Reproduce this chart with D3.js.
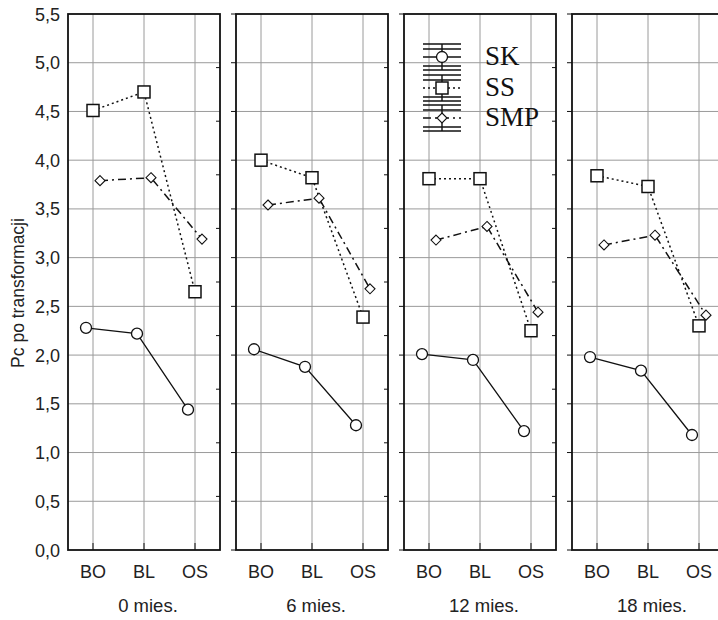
<!DOCTYPE html>
<html>
<head>
<meta charset="utf-8">
<script src="https://cdn.jsdelivr.net/npm/d3@7/dist/d3.min.js"></script>
<style>
  html, body { margin: 0; padding: 0; background: #fff; }
  svg { display: block; }
</style>
</head>
<body>
<svg id="chart" width="718" height="620"></svg>
<script>
// Categories and periods
const categories = ["BO", "BL", "OS"];
const periods = ["0 mies.", "6 mies.", "12 mies.", "18 mies."];
const yTicks = [0, 0.5, 1, 1.5, 2, 2.5, 3, 3.5, 4, 4.5, 5, 5.5];

// Mean values per period (rows) and category (columns)
const skValues = [
  [2.28, 2.22, 1.44],
  [2.06, 1.88, 1.28],
  [2.01, 1.95, 1.22],
  [1.98, 1.84, 1.18]
];
const ssValues = [
  [4.51, 4.70, 2.65],
  [4.00, 3.82, 2.39],
  [3.81, 3.81, 2.25],
  [3.84, 3.73, 2.30]
];
const smpValues = [
  [3.79, 3.82, 3.19],
  [3.54, 3.61, 2.68],
  [3.18, 3.32, 2.44],
  [3.13, 3.23, 2.41]
];
const seriesNames = ["SK", "SS", "SMP"];

const svg = d3.select("#chart");
const sans = "'Liberation Sans', Arial, sans-serif";
const serif = "'Liberation Serif', 'Times New Roman', serif";

const plotTop = 14, plotBottom = 550, panelW = 152;
const y = d3.scaleLinear().domain([0, 5.5]).range([plotBottom, plotTop]);
const panelX = d3.scalePoint().domain(periods).range([68, 572]);
const x = d3.scalePoint().domain(categories).range([25, 127]);

const series = [
  { name: "SK", values: skValues, dx: -7, dash: null, shape: "circle" },
  { name: "SS", values: ssValues, dx: 0, dash: "2,3", shape: "square" },
  { name: "SMP", values: smpValues, dx: 7, dash: "8,4,2,4", shape: "diamond" }
];

function drawMarker(g, shape, cx, cy) {
  if (shape === "circle") {
    g.append("circle").attr("cx", cx).attr("cy", cy).attr("r", 5.5)
      .attr("fill", "#fff").attr("stroke", "#111").attr("stroke-width", 1.3);
  } else if (shape === "square") {
    g.append("rect").attr("x", cx - 6).attr("y", cy - 6).attr("width", 12).attr("height", 12)
      .attr("fill", "#fff").attr("stroke", "#111").attr("stroke-width", 1.5);
  } else {
    const r = 5;
    g.append("path").attr("d", `M${cx},${cy - r}L${cx + r},${cy}L${cx},${cy + r}L${cx - r},${cy}Z`)
      .attr("fill", "#fff").attr("stroke", "#111").attr("stroke-width", 1.1);
  }
}

periods.forEach((p, pi) => {
  const g = svg.append("g").attr("transform", `translate(${panelX(p)},0)`);

  // grid
  g.selectAll("line.hg").data(yTicks.slice(1, -1)).enter().append("line")
    .attr("x1", 0).attr("x2", panelW).attr("y1", d => y(d)).attr("y2", d => y(d))
    .attr("stroke", "#9a9a9a").attr("stroke-width", 1);
  g.selectAll("line.vg").data(categories).enter().append("line")
    .attr("x1", d => x(d)).attr("x2", d => x(d)).attr("y1", plotTop).attr("y2", plotBottom)
    .attr("stroke", "#9a9a9a").attr("stroke-width", 1);

  // inner ticks on the right border (10 divisions)
  g.selectAll("line.rt").data(d3.range(1, 10)).enter().append("line")
    .attr("x1", panelW - 4).attr("x2", panelW)
    .attr("y1", d => plotBottom - d * (plotBottom - plotTop) / 10)
    .attr("y2", d => plotBottom - d * (plotBottom - plotTop) / 10)
    .attr("stroke", "#111").attr("stroke-width", 1);

  // bottom category ticks
  g.selectAll("line.bt").data(categories).enter().append("line")
    .attr("x1", d => x(d)).attr("x2", d => x(d)).attr("y1", plotBottom - 7).attr("y2", plotBottom)
    .attr("stroke", "#111").attr("stroke-width", 1);

  // left outward ticks for inner panels
  if (pi > 0) {
    g.selectAll("line.lt").data(yTicks).enter().append("line")
      .attr("x1", -5).attr("x2", 0).attr("y1", d => y(d)).attr("y2", d => y(d))
      .attr("stroke", "#111").attr("stroke-width", 1);
  }

  // lines and markers
  series.forEach(s => {
    const vals = s.values[pi];
    const line = d3.line().x((d, i) => x(categories[i]) + s.dx).y(d => y(d));
    g.append("path").attr("d", line(vals)).attr("fill", "none")
      .attr("stroke", "#111").attr("stroke-width", s.dash ? 1.5 : 1.3)
      .attr("stroke-dasharray", s.dash);
  });
  series.forEach(s => {
    s.values[pi].forEach((v, i) => drawMarker(g, s.shape, x(categories[i]) + s.dx, y(v)));
  });

  // frame
  g.append("rect").attr("x", 0).attr("y", plotTop).attr("width", panelW).attr("height", plotBottom - plotTop)
    .attr("fill", "none").attr("stroke", "#111").attr("stroke-width", 1.8);

  // category labels
  g.selectAll("text.cat").data(categories).enter().append("text")
    .attr("x", d => x(d)).attr("y", 578).attr("text-anchor", "middle")
    .attr("font-family", sans).attr("font-size", 18).attr("fill", "#222").text(d => d);

  g.append("text").attr("x", x("BL") + 4).attr("y", 612).attr("text-anchor", "middle")
    .attr("font-family", sans).attr("font-size", 18.5).attr("fill", "#222").text(p);
});

// y axis labels on the first panel
const yAxisG = svg.append("g");
yAxisG.selectAll("text").data(yTicks).enter().append("text")
  .attr("x", 60).attr("y", d => y(d) + 6.5).attr("text-anchor", "end")
  .attr("font-family", sans).attr("font-size", 18).attr("fill", "#222")
  .text(d => d3.format(".1f")(d).replace(".", ","));

svg.append("text").attr("transform", "translate(24,293) rotate(-90)")
  .attr("text-anchor", "middle").attr("font-family", sans).attr("font-size", 17.5).attr("fill", "#222")
  .text("Pc po transformacji");

// legend
const legend = svg.append("g");
const legendRows = [57, 88, 118];
series.forEach((s, i) => {
  const cx = 442, cy = legendRows[i];
  const lg = legend.append("g");
  lg.append("line").attr("x1", cx).attr("x2", cx).attr("y1", cy - 13).attr("y2", cy + 13)
    .attr("stroke", "#111").attr("stroke-width", 1.4);
  [-13, -8, 9, 13].forEach(o => {
    lg.append("line").attr("x1", cx - 19).attr("x2", cx + 19).attr("y1", cy + o).attr("y2", cy + o)
      .attr("stroke", "#111").attr("stroke-width", 1.6);
  });
  lg.append("line").attr("x1", cx - 19).attr("x2", cx + 19).attr("y1", cy).attr("y2", cy)
    .attr("stroke", "#111").attr("stroke-width", 1.4).attr("stroke-dasharray", s.dash);
  drawMarker(lg, s.shape, cx, cy);
  lg.append("text").attr("x", 485).attr("y", cy + 7.5)
    .attr("font-family", serif).attr("font-size", 27).attr("fill", "#111").text(seriesNames[i]);
});
</script>
</body>
</html>
